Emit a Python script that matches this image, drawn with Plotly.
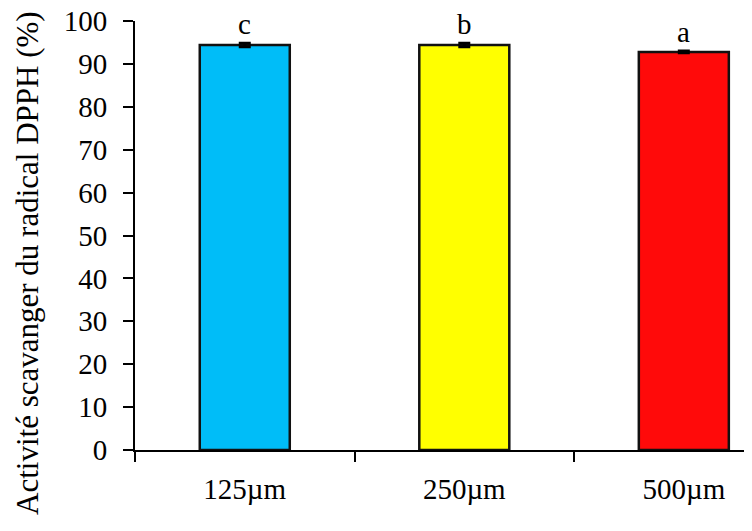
import plotly.graph_objects as go

categories = ["125µm", "250µm", "500µm"]
values = [94.4, 94.4, 92.8]
errors = [0.4, 0.4, 0.2]
letters = ["c", "b", "a"]
colors = ["#00BDF8", "#FFFF00", "#FF0A0A"]
y_ticks = [0, 10, 20, 30, 40, 50, 60, 70, 80, 90, 100]
y_title = "Activité scavanger du radical DPPH (%)"

FONT = "Liberation Serif"

fig = go.Figure()
fig.add_trace(go.Bar(
    x=[0, 1, 2], y=values, width=0.41,
    marker=dict(color=colors, line=dict(color="#111111", width=2.5)),
    error_y=dict(type="data", array=errors, visible=True, color="black", thickness=3, width=6),
    showlegend=False,
))

for i, (v, e, t) in enumerate(zip(values, errors, letters)):
    fig.add_annotation(x=i, y=v + e, text=t, showarrow=False, yanchor="bottom", yshift=1,
                       font=dict(family=FONT, size=29, color="black"))

fig.add_annotation(xref="paper", yref="paper", x=0, y=0.436, xanchor="center", yanchor="middle",
                   xshift=-107, text=y_title, textangle=-90, showarrow=False,
                   font=dict(family=FONT, size=31, color="black"))

fig.update_layout(
    width=752, height=531,
    margin=dict(l=127, r=0, t=13, b=89),
    paper_bgcolor="white", plot_bgcolor="white",
    font=dict(family=FONT, size=29, color="black"),
    xaxis=dict(
        range=[-0.5, 2.347], automargin=False,
        tickmode="array", tickvals=[0, 1, 2], ticktext=categories,
        showline=True, linecolor="black", linewidth=2,
        ticks="", showgrid=False, zeroline=False,
        tickfont=dict(family=FONT, size=29),
        ticklabelstandoff=12, ticklabeloverflow="allow",
    ),
    yaxis=dict(
        range=[0, 100], tickvals=y_ticks, automargin=False,
        showline=True, linecolor="black", linewidth=2,
        ticks="outside", ticklen=10, tickwidth=2, tickcolor="black",
        showgrid=False, zeroline=False,
        tickfont=dict(family=FONT, size=29),
        ticklabelstandoff=10, ticklabeloverflow="allow",
    ),
)

fig.update_xaxes(minor=dict(tickvals=[-0.5, 0.5, 1.5], ticks="outside", ticklen=10, tickwidth=2, tickcolor="black"))

fig.write_html("out.html")
